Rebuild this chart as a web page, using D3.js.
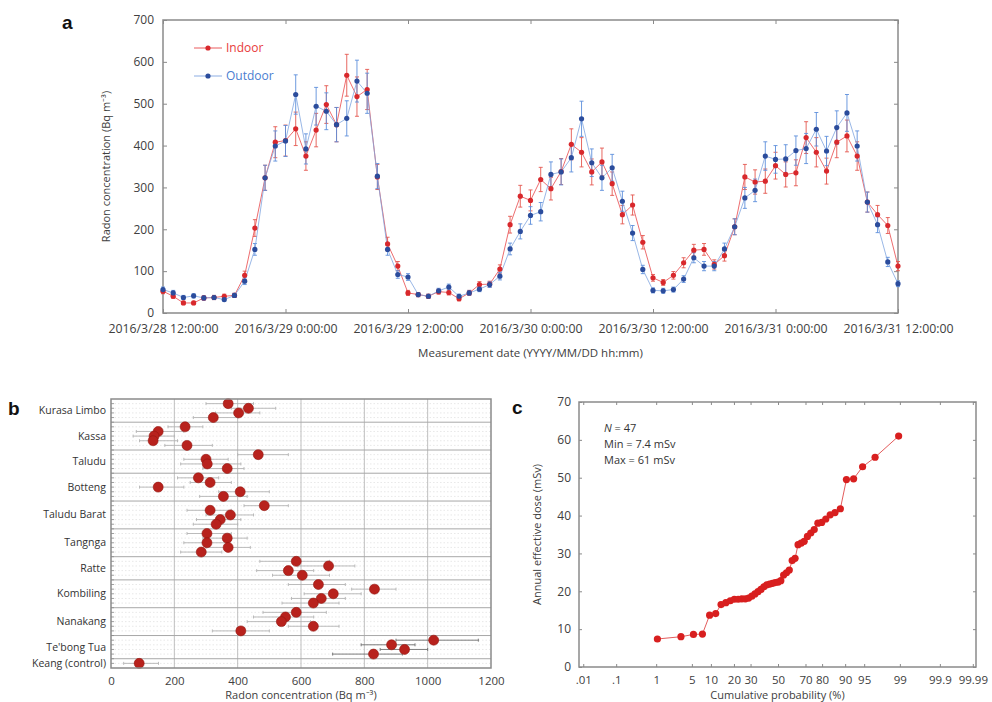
<!DOCTYPE html>
<html>
<head>
<meta charset="utf-8">
<script src="https://cdn.jsdelivr.net/npm/d3@7"></script>
<style>
  body { margin: 0; background: #fff; }
  svg text { font-family: "Open Sans", sans-serif; }
</style>
</head>
<body>
<svg id="fig" width="992" height="702"></svg>
<script>
// ---- panel a : hourly radon, 2016/3/28 12:00 -> 2016/3/31 12:00
const startTime = new Date(2016, 2, 28, 12);
const indoor = [52, 40, 24, 24, 36, 37, 40, 42, 90, 203, 323, 408, 412, 440, 375, 437, 498, 450, 568, 517,
  534, 325, 165, 112, 48, 44, 40, 51, 49, 34, 48, 68, 69, 105, 211, 279, 269, 319, 297, 338,
  403, 384, 337, 361, 309, 235, 258, 169, 84, 73, 90, 120, 150, 152, 116, 137, 206, 325, 313, 315,
  352, 331, 335, 419, 384, 339, 408, 423, 375, 265, 235, 209, 112];
const indoorErr = [6, 5, 4, 4, 5, 5, 5, 5, 10, 20, 30, 37, 37, 40, 34, 40, 45, 41, 50, 47,
  48, 30, 16, 11, 6, 5, 5, 6, 6, 5, 6, 7, 7, 10, 20, 26, 25, 29, 27, 31,
  37, 35, 31, 33, 28, 22, 24, 16, 8, 7, 9, 12, 14, 14, 11, 13, 19, 30, 29, 29,
  32, 30, 31, 38, 35, 31, 37, 38, 34, 24, 22, 19, 11];
const outdoor = [56, 48, 37, 41, 36, 37, 32, 42, 76, 152, 323, 399, 411, 522, 392, 494, 482, 450, 465, 554,
  525, 327, 152, 92, 86, 44, 40, 53, 62, 40, 48, 57, 68, 88, 153, 195, 233, 242, 331, 337,
  371, 464, 359, 323, 347, 267, 191, 104, 54, 53, 56, 81, 132, 112, 112, 153, 206, 275, 293, 375,
  367, 368, 388, 393, 439, 387, 443, 478, 399, 265, 211, 122, 70];
const outdoorErr = [6, 6, 5, 5, 5, 5, 4, 5, 8, 14, 30, 36, 37, 47, 36, 45, 44, 41, 42, 50,
  48, 30, 14, 9, 8, 5, 5, 6, 7, 5, 6, 6, 7, 9, 14, 18, 21, 22, 30, 31,
  34, 42, 33, 30, 32, 24, 18, 10, 6, 6, 6, 8, 12, 11, 11, 14, 19, 25, 27, 34,
  33, 34, 35, 36, 40, 35, 40, 44, 36, 24, 19, 11, 7];
const yTicksA = [0, 100, 200, 300, 400, 500, 600, 700];

// ---- panel b : radon per house, grouped by village
const villages = ["Kurasa Limbo", "Kassa", "Taludu", "Botteng", "Taludu Barat", "Tangnga",
  "Ratte", "Kombiling", "Nanakang", "Te'bong Tua", "Keang (control)"];
const houseCounts = [4, 5, 4, 5, 5, 5, 4, 5, 5, 4, 1];
const houseRadon = [370, 434, 403, 323,
  234, 149, 136, 133, 240,
  465, 300, 304, 367,
  276, 313, 149, 408, 355,
  484, 313, 377, 345, 332,
  303, 367, 303, 370, 285,
  585, 687, 560, 604,
  655, 832, 702, 664, 639,
  585, 551, 538, 639, 410,
  1019, 886, 927, 829,
  89];
const houseLow = [300, 380, 330, 260,
  180, 80, 70, 90, 170,
  400, 230, 220, 290,
  210, 250, 90, 340, 280,
  420, 240, 300, 270, 260,
  240, 290, 230, 300, 220,
  470, 590, 460, 510,
  560, 760, 610, 570, 540,
  480, 450, 430, 560, 320,
  900, 790, 850, 700,
  40];
const houseHigh = [450, 520, 470, 400,
  290, 230, 200, 210, 320,
  560, 370, 410, 420,
  340, 380, 230, 500, 430,
  560, 380, 450, 410, 400,
  380, 430, 370, 440, 350,
  690, 770, 640, 690,
  740, 900, 790, 740, 720,
  680, 640, 630, 720, 500,
  1160, 960, 1000, 920,
  150];
const xTicksB = [0, 200, 400, 600, 800, 1000, 1200];

// ---- panel c : annual effective dose, sorted (N = 47)
const doses = [7.4, 8.0, 8.6, 8.7, 13.7, 14.1, 16.5, 17.0, 17.5, 17.9,
  17.9, 18.0, 18.0, 18.2, 18.7, 19.3, 19.9, 20.5, 21.2, 21.7,
  21.9, 22.1, 22.3, 22.4, 22.8, 24.3, 24.9, 25.6, 28.1, 28.7,
  32.3, 32.7, 33.2, 34.5, 35.4, 36.3, 38.0, 38.2, 39.1, 40.2,
  40.8, 41.8, 49.5, 49.7, 52.9, 55.4, 61.0];
const probTicks = [0.01, 0.1, 1, 5, 10, 20, 30, 50, 70, 80, 90, 95, 99, 99.9, 99.99];
const probLabels = [".01", ".1", "1", "5", "10", "20", "30", "50", "70", "80", "90", "95", "99", "99.9", "99.99"];
const yTicksC = [0, 10, 20, 30, 40, 50, 60, 70];

const frame = "#8a8a8a", txt = "#404040";
const svg = d3.select("#fig");

function styleAxis(g, size) {
  g.select(".domain").remove();
  g.selectAll(".tick line").attr("stroke", frame);
  g.selectAll(".tick text").attr("fill", txt).style("font-size", size + "px");
}
function box(P) {
  svg.append("rect").attr("x", P.l).attr("y", P.t).attr("width", P.r - P.l).attr("height", P.b - P.t)
    .attr("fill", "none").attr("stroke", frame).attr("stroke-width", 1.5);
}

// inverse standard normal CDF (Acklam)
function probit(p) {
  const a = [-39.69683028665376, 220.9460984245205, -275.9285104469687, 138.3577518672690, -30.66479806614716, 2.506628274631000];
  const b = [-54.47609879822406, 161.5858368580409, -155.6989798598866, 66.80131188771972, -13.28068155288572];
  const c = [-0.007784894002430293, -0.3223964580411365, -2.400758277161838, -2.549732539343734, 4.374664141464968, 2.938163982698783];
  const d = [0.007784695709041462, 0.3224671290700398, 2.445134137142996, 3.754408661907416];
  const pl = 0.02425;
  if (p < pl) {
    const q = Math.sqrt(-2 * Math.log(p));
    return (((((c[0]*q+c[1])*q+c[2])*q+c[3])*q+c[4])*q+c[5]) / ((((d[0]*q+d[1])*q+d[2])*q+d[3])*q+1);
  }
  if (p > 1 - pl) {
    const q = Math.sqrt(-2 * Math.log(1 - p));
    return -(((((c[0]*q+c[1])*q+c[2])*q+c[3])*q+c[4])*q+c[5]) / ((((d[0]*q+d[1])*q+d[2])*q+d[3])*q+1);
  }
  const q = p - 0.5, r = q * q;
  return (((((a[0]*r+a[1])*r+a[2])*r+a[3])*r+a[4])*r+a[5])*q / (((((b[0]*r+b[1])*r+b[2])*r+b[3])*r+b[4])*r+1);
}

// ================= panel a =================
const A = {l: 163, r: 898, t: 20, b: 313};
const xa = d3.scaleTime().domain([startTime, d3.timeHour.offset(startTime, 72)]).range([A.l, A.r]);
const ya = d3.scaleLinear().domain([0, 700]).range([A.b, A.t]);
const tA = d3.timeHour.every(12).range(startTime, d3.timeHour.offset(startTime, 73));
const fmtA = d => `${d.getFullYear()}/${d.getMonth() + 1}/${d.getDate()} ${d.getHours()}:00:00`;

box(A);
svg.append("g").attr("transform", `translate(0,${A.b})`)
  .call(d3.axisBottom(xa).tickValues(tA).tickFormat(fmtA).tickSize(-4).tickPadding(11))
  .call(g => styleAxis(g, 12.3));
svg.append("g").attr("transform", `translate(0,${A.t})`)
  .call(d3.axisTop(xa).tickValues(tA).tickFormat("").tickSize(-4)).call(g => styleAxis(g, 11));
svg.append("g").attr("transform", `translate(${A.l},0)`)
  .call(d3.axisLeft(ya).tickValues(yTicksA).tickSize(-4).tickPadding(9))
  .call(g => styleAxis(g, 12));
svg.append("g").attr("transform", `translate(${A.r},0)`)
  .call(d3.axisRight(ya).tickValues(yTicksA).tickFormat("").tickSize(-4)).call(g => styleAxis(g, 11));

svg.append("text").attr("transform", `translate(${(A.l + A.r) / 2},${A.b + 44})`)
  .attr("text-anchor", "middle").attr("fill", txt).style("font-size", "11.5px")
  .text("Measurement date (YYYY/MM/DD hh:mm)");
svg.append("text").attr("transform", `translate(${A.l - 53},${(A.t + A.b) / 2}) rotate(-90)`)
  .attr("text-anchor", "middle").attr("fill", txt).style("font-size", "11px")
  .text("Radon concentration (Bq m\u207B\u00B3)");

const seriesA = [
  {name: "Indoor", vals: indoor, err: indoorErr, line: "#e8474a", bar: "#e4574f", dot: "#d8282c", text: "#e83a3a"},
  {name: "Outdoor", vals: outdoor, err: outdoorErr, line: "#7fa4e0", bar: "#5d8fdb", dot: "#2b4c9c", text: "#4a7dd0"}
];
const tOf = i => d3.timeHour.offset(startTime, i);
seriesA.forEach(s => {
  const g = svg.append("g");
  const eb = g.selectAll("g").data(s.vals).join("g").attr("stroke", s.bar).attr("stroke-width", 0.9);
  eb.append("line").attr("x1", (d, i) => xa(tOf(i))).attr("x2", (d, i) => xa(tOf(i)))
    .attr("y1", (d, i) => ya(d - s.err[i])).attr("y2", (d, i) => ya(d + s.err[i]));
  eb.append("line").attr("x1", (d, i) => xa(tOf(i)) - 2).attr("x2", (d, i) => xa(tOf(i)) + 2)
    .attr("y1", (d, i) => ya(d + s.err[i])).attr("y2", (d, i) => ya(d + s.err[i]));
  eb.append("line").attr("x1", (d, i) => xa(tOf(i)) - 2).attr("x2", (d, i) => xa(tOf(i)) + 2)
    .attr("y1", (d, i) => ya(d - s.err[i])).attr("y2", (d, i) => ya(d - s.err[i]));
  g.append("path").datum(s.vals).attr("fill", "none").attr("stroke", s.line).attr("stroke-width", 0.8)
    .attr("d", d3.line().x((d, i) => xa(tOf(i))).y(d => ya(d)));
});
seriesA.forEach(s => {
  svg.append("g").selectAll("circle").data(s.vals).join("circle")
    .attr("cx", (d, i) => xa(tOf(i))).attr("cy", d => ya(d)).attr("r", 2.6).attr("fill", s.dot);
});
// legend
seriesA.forEach((s, k) => {
  const y = 48 + k * 28;
  svg.append("line").attr("x1", 194).attr("x2", 222).attr("y1", y).attr("y2", y).attr("stroke", s.line).attr("stroke-width", 0.9);
  svg.append("circle").attr("cx", 208).attr("cy", y).attr("r", 2.6).attr("fill", s.dot);
  svg.append("text").attr("x", 226).attr("y", y + 4).attr("fill", s.text).style("font-size", "12px").text(s.name);
});

// ================= panel b =================
const B = {l: 111, r: 491, t: 399, b: 668};
const xb = d3.scaleLinear().domain([0, 1200]).range([B.l, B.r]);
const slotTotal = d3.sum(houseCounts, n => n + 1);
const yb = d3.scaleLinear().domain([0, slotTotal]).range([B.t, B.b]);
const vStart = [];
houseCounts.reduce((acc, n, i) => { vStart[i] = acc; return acc + n + 1; }, 0);
const houses = [];
houseCounts.forEach((n, v) => { for (let k = 0; k < n; k++) houses.push({v, slot: vStart[v] + k + 1}); });
houses.forEach((h, i) => { h.val = houseRadon[i]; h.lo = houseLow[i]; h.hi = houseHigh[i]; });

const gb = svg.append("g");
gb.selectAll("line.row").data(houses).join("line").attr("class", "row")
  .attr("x1", B.l).attr("x2", B.r).attr("y1", d => yb(d.slot)).attr("y2", d => yb(d.slot))
  .attr("stroke", "#d8d8d8").attr("stroke-width", 0.6).attr("stroke-dasharray", "1.5,2");
gb.selectAll("line.vg").data(xTicksB.slice(1, -1)).join("line").attr("class", "vg")
  .attr("x1", d => xb(d)).attr("x2", d => xb(d)).attr("y1", B.t).attr("y2", B.b)
  .attr("stroke", "#b8b8b8").attr("stroke-width", 0.9);
gb.selectAll("line.sep").data(vStart.slice(1)).join("line").attr("class", "sep")
  .attr("x1", B.l).attr("x2", B.r).attr("y1", d => yb(d)).attr("y2", d => yb(d))
  .attr("stroke", "#a8a8a8").attr("stroke-width", 1);
// left minor ticks, one per slot
gb.selectAll("line.mt").data(d3.range(1, slotTotal)).join("line").attr("class", "mt")
  .attr("x1", B.l).attr("x2", B.l + 3).attr("y1", d => yb(d)).attr("y2", d => yb(d))
  .attr("stroke", frame).attr("stroke-width", 0.8);
box(B);
svg.append("g").attr("transform", `translate(0,${B.b})`)
  .call(d3.axisBottom(xb).tickValues(xTicksB).tickFormat(d3.format("d")).tickSize(0).tickPadding(9))
  .call(g => styleAxis(g, 11.5));
svg.append("text").attr("x", (B.l + B.r) / 2).attr("y", 699).attr("text-anchor", "middle")
  .attr("fill", txt).style("font-size", "11px").text("Radon concentration (Bq m\u207B\u00B3)");
gb.selectAll("text.vl").data(villages).join("text").attr("class", "vl")
  .attr("x", B.l - 5).attr("y", (d, i) => yb(vStart[i] + (houseCounts[i] + 1) / 2) + 3.5)
  .attr("text-anchor", "end").attr("fill", "#333").style("font-size", "10.5px").text(d => d);

const hb = gb.selectAll("g.hb").data(houses).join("g").attr("class", "hb")
  .attr("stroke", d => d.v === 9 ? "#6e6e6e" : "#b4b4b4").attr("stroke-width", 0.9);
hb.append("line").attr("x1", d => xb(d.lo)).attr("x2", d => xb(d.hi)).attr("y1", d => yb(d.slot)).attr("y2", d => yb(d.slot));
hb.append("line").attr("x1", d => xb(d.lo)).attr("x2", d => xb(d.lo)).attr("y1", d => yb(d.slot) - 1.5).attr("y2", d => yb(d.slot) + 1.5);
hb.append("line").attr("x1", d => xb(d.hi)).attr("x2", d => xb(d.hi)).attr("y1", d => yb(d.slot) - 1.5).attr("y2", d => yb(d.slot) + 1.5);
gb.selectAll("circle").data(houses).join("circle")
  .attr("cx", d => xb(d.val)).attr("cy", d => yb(d.slot)).attr("r", 5)
  .attr("fill", "#b8221d").attr("stroke", "#94160f").attr("stroke-width", 0.6);

// ================= panel c =================
const C = {l: 579, r: 976, t: 402, b: 667};
const xc = d3.scaleLinear().domain([-3.8, 3.78]).range([C.l, C.r]);
const yc = d3.scaleLinear().domain([0, 70]).range([C.b, C.t]);
const nDose = doses.length;
const pts = doses.map((v, i) => ({z: probit((i + 0.5) / nDose), v}));

box(C);
svg.append("g").attr("transform", `translate(0,${C.b})`)
  .call(d3.axisBottom(xc).tickValues(probTicks.map(p => probit(p / 100))).tickFormat((d, i) => probLabels[i]).tickSize(-3).tickPadding(9))
  .call(g => styleAxis(g, 11.5));
svg.append("g").attr("transform", `translate(0,${C.t})`)
  .call(d3.axisTop(xc).tickValues(probTicks.map(p => probit(p / 100))).tickFormat("").tickSize(-3))
  .call(g => styleAxis(g, 11));
svg.append("g").attr("transform", `translate(${C.l},0)`)
  .call(d3.axisLeft(yc).tickValues(yTicksC).tickSize(-3).tickPadding(8))
  .call(g => styleAxis(g, 12));
svg.append("g").attr("transform", `translate(${C.r},0)`)
  .call(d3.axisRight(yc).tickValues(yTicksC).tickFormat("").tickSize(-3))
  .call(g => styleAxis(g, 11));
svg.append("text").attr("x", (C.l + C.r) / 2).attr("y", 699).attr("text-anchor", "middle")
  .attr("fill", txt).style("font-size", "11px").text("Cumulative probability (%)");
svg.append("text").attr("transform", `translate(${C.l - 38},${(C.t + C.b) / 2}) rotate(-90)`)
  .attr("text-anchor", "middle").attr("fill", txt).style("font-size", "11px").text("Annual effective dose (mSv)");

svg.append("path").datum(pts).attr("fill", "none").attr("stroke", "#e04a4a").attr("stroke-width", 0.9)
  .attr("d", d3.line().x(d => xc(d.z)).y(d => yc(d.v)));
svg.append("g").selectAll("circle").data(pts).join("circle")
  .attr("cx", d => xc(d.z)).attr("cy", d => yc(d.v)).attr("r", 3.6).attr("fill", "#d81f1f");

const note = svg.append("text").attr("x", 604).attr("fill", "#333").style("font-size", "11px");
note.append("tspan").attr("x", 604).attr("y", 432).style("font-style", "italic").text("N");
note.append("tspan").text(" = 47");
svg.append("text").attr("x", 604).attr("y", 448).attr("fill", "#333").style("font-size", "11px").text("Min = 7.4 mSv");
svg.append("text").attr("x", 604).attr("y", 464).attr("fill", "#333").style("font-size", "11px").text("Max = 61 mSv");

// panel letters
[["a", 62, 29], ["b", 8, 415], ["c", 512, 414]].forEach(([t, x, y]) => {
  svg.append("text").attr("x", x).attr("y", y).style("font-family", "'Liberation Sans', Arial, sans-serif")
    .style("font-weight", "bold").style("font-size", "19px").attr("fill", "#111").text(t);
});
</script>
</body>
</html>
